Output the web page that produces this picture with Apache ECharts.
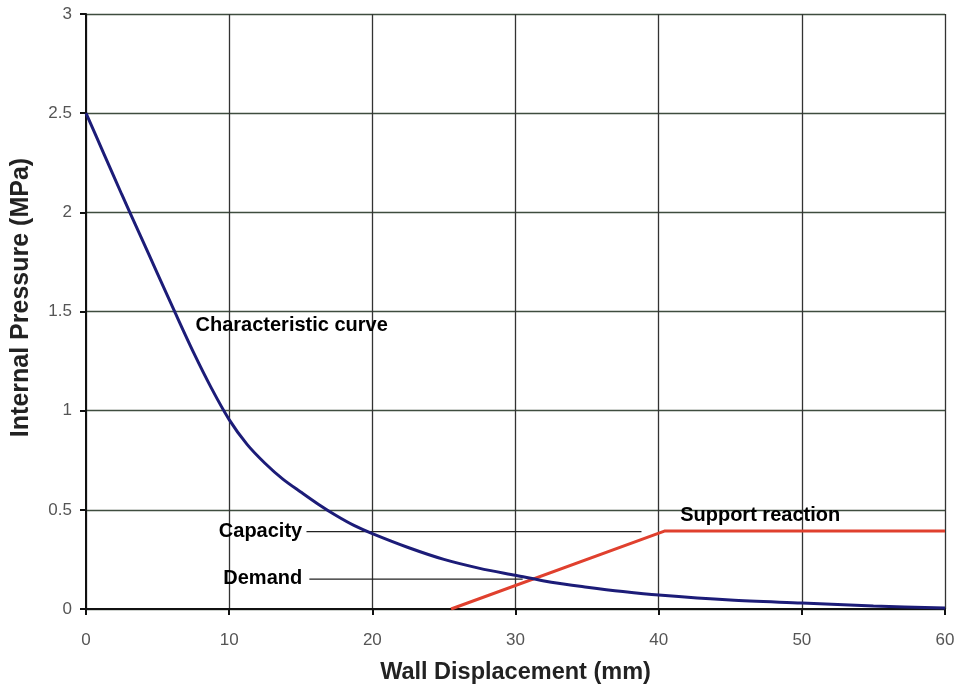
<!DOCTYPE html>
<html>
<head>
<meta charset="utf-8">
<script src="https://cdn.jsdelivr.net/npm/echarts@6/dist/echarts.min.js"></script>
<style>html,body{margin:0;padding:0;background:#fff}#c{width:961px;height:692px}</style>
</head>
<body>
<div id="c"></div>
<script>
// Characteristic curve (wall displacement mm, internal pressure MPa)
const curveX = [0, 1.25, 2.5, 3.75, 5, 6.25, 7.5, 8.75, 10, 11.25, 12.5, 13.75, 15, 16.25, 17.5, 18.75, 20, 22.5, 25, 27.5, 30, 32.5, 35, 37.5, 40, 45, 50, 55, 60];
const curveY = [2.5, 2.295, 2.09, 1.89, 1.69, 1.49, 1.295, 1.115, 0.955, 0.83, 0.735, 0.655, 0.59, 0.527, 0.47, 0.42, 0.38, 0.31, 0.25, 0.205, 0.17, 0.135, 0.11, 0.088, 0.07, 0.045, 0.03, 0.015, 0.005];
// Support reaction line
const supportX = [25.5, 40.4, 60];
const supportY = [0, 0.393, 0.393];
// Capacity / demand leader lines
const capacityX = [15.4, 38.8];
const capacityY = [0.39, 0.39];
const demandX = [15.6, 30.5];
const demandY = [0.151, 0.151];
// Annotation texts
const annoNames = ['Characteristic curve', 'Capacity', 'Demand', 'Support reaction'];
const annoX = [7.65, 15.1, 15.1, 41.5];
const annoY = [1.43, 0.393, 0.156, 0.474];
const annoSide = ['right', 'left', 'left', 'right'];

const zip = (xs, ys) => xs.map((x, i) => [x, ys[i]]);

const chart = echarts.init(document.getElementById('c'));
const font = '"Liberation Sans", Arial, sans-serif';
chart.setOption({
  animation: false,
  grid: { left: 86, right: 16, top: 14, bottom: 83, containLabel: false },
  xAxis: {
    type: 'value', min: 0, max: 60, interval: 10,
    name: 'Wall Displacement (mm)', nameLocation: 'middle', nameGap: 52,
    nameTextStyle: { fontFamily: font, fontWeight: 'bold', fontSize: 23.5, color: '#222' },
    axisLine: { show: true, onZero: false, lineStyle: { color: '#111', width: 2 } },
    axisTick: { show: true, inside: false, length: 6, lineStyle: { color: '#111', width: 2 } },
    axisLabel: { fontFamily: font, fontSize: 17, color: '#555', margin: 23 },
    splitLine: { show: true, lineStyle: { color: '#333', width: 1.3 } }
  },
  yAxis: {
    type: 'value', min: 0, max: 3, interval: 0.5,
    name: 'Internal Pressure (MPa)', nameLocation: 'middle', nameGap: 52,
    nameTextStyle: { fontFamily: font, fontWeight: 'bold', fontSize: 25, color: '#222', padding: [0, 0, 0, 28] },
    axisLine: { show: true, lineStyle: { color: '#111', width: 2 } },
    axisTick: { show: true, inside: false, length: 6, lineStyle: { color: '#111', width: 2 } },
    axisLabel: { fontFamily: font, fontSize: 17, color: '#555', margin: 14 },
    splitLine: { show: true, lineStyle: { color: '#3f4d3f', width: 1.3 } }
  },
  series: [
    {
      type: 'line', data: zip(curveX, curveY), smooth: 0.3, symbol: 'none',
      lineStyle: { color: '#1c1c78', width: 3 }, z: 5
    },
    {
      type: 'line', data: zip(supportX, supportY), symbol: 'none',
      lineStyle: { color: '#e0402e', width: 3 }, z: 4
    },
    {
      type: 'line', data: zip(capacityX, capacityY), symbol: 'none',
      lineStyle: { color: '#222', width: 1.2 }, z: 3
    },
    {
      type: 'line', data: zip(demandX, demandY), symbol: 'none',
      lineStyle: { color: '#222', width: 1.2 }, z: 3
    },
    {
      type: 'scatter', symbolSize: 0, z: 6,
      data: annoNames.map((n, i) => ({
        name: n, value: [annoX[i], annoY[i]],
        label: { position: annoSide[i] }
      })),
      label: {
        show: true, distance: 0, formatter: p => p.name,
        fontFamily: font, fontWeight: 'bold', fontSize: 20, color: '#000', opacity: 1
      },
      itemStyle: { opacity: 1 }
    }
  ]
});
</script>
</body>
</html>
